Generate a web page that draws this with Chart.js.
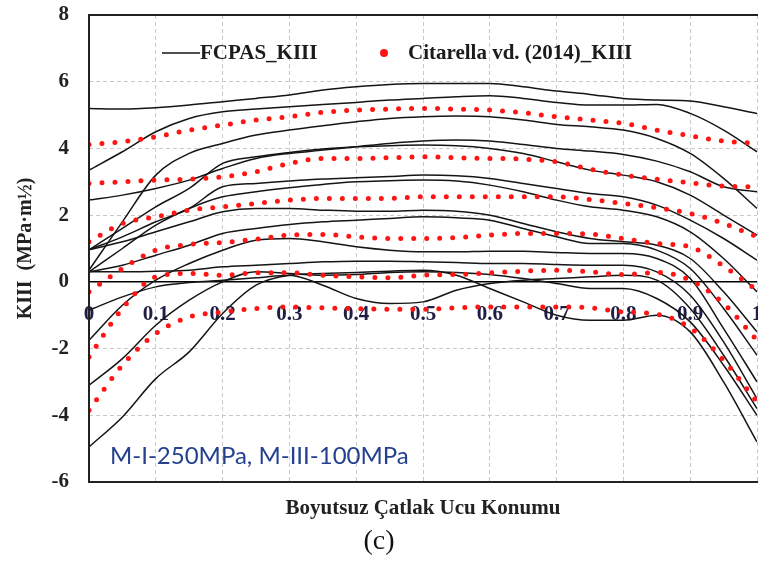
<!DOCTYPE html>
<html>
<head>
<meta charset="utf-8">
<script src="https://cdn.jsdelivr.net/npm/chart.js@4.4.0/dist/chart.umd.min.js"></script>
<style>
  html, body { margin: 0; padding: 0; background: #fff; }
  #wrap { position: relative; width: 758px; height: 563px; overflow: hidden; }
  #cap { position: absolute; left: 0; width: 758px; top: 522px; text-align: center;
         font: 28px "Liberation Serif", serif; color: #111; line-height: 36px; }
</style>
</head>
<body>
<div id="wrap">
  <canvas id="myChart" width="758" height="563"></canvas>
  <div id="cap">(c)</div>
</div>
<script>
/* ================================
   KIII along the crack front
================================ */
// crack front positions (dimensionless)
var xs = [0, 0.05, 0.1, 0.15, 0.2, 0.25, 0.3, 0.35, 0.4, 0.45, 0.5,
          0.55, 0.6, 0.65, 0.7, 0.75, 0.8, 0.85, 0.9, 0.95, 1];

// FCPAS_KIII curves
var fcpas1  = [5.2, 5.18, 5.22, 5.3, 5.4, 5.5, 5.6, 5.75, 5.85, 5.92, 5.95, 5.95, 5.95, 5.85, 5.72, 5.62, 5.5, 5.45, 5.42, 5.25, 5.05];
var fcpas2  = [3.35, 3.9, 4.5, 4.9, 5.1, 5.18, 5.25, 5.32, 5.38, 5.45, 5.5, 5.55, 5.58, 5.5, 5.38, 5.3, 5.3, 5.32, 5.05, 4.55, 3.9];
var fcpas3  = [0.35, 1.8, 3.2, 3.85, 4.15, 4.4, 4.55, 4.68, 4.8, 4.9, 4.95, 4.97, 4.95, 4.85, 4.72, 4.65, 4.55, 4.3, 3.85, 3.1, 2.2];
var fcpas4  = [2.45, 2.6, 2.8, 3.05, 3.4, 3.7, 3.85, 3.95, 4.05, 4.15, 4.22, 4.25, 4.22, 4.12, 4.0, 3.92, 3.82, 3.62, 3.3, 2.85, 2.7];
var fcpas5  = [0.96, 1.6, 2.25, 2.8, 3.55, 3.75, 3.88, 3.98, 4.05, 4.08, 4.1, 4.08, 4.0, 3.85, 3.6, 3.35, 3.2, 3.0, 2.6, 2.0, 1.4];
var fcpas6  = [0.96, 1.35, 1.8, 2.2, 2.85, 2.95, 3.02, 3.08, 3.12, 3.16, 3.2, 3.18, 3.1, 2.95, 2.8, 2.65, 2.55, 2.3, 1.85, 1.3, 0.65];
var fcpas7  = [0.3, 1.0, 1.7, 2.2, 2.55, 2.7, 2.82, 2.92, 3.0, 3.03, 3.05, 3.02, 2.9, 2.7, 2.45, 2.25, 2.15, 1.95, 1.5, 0.7, -0.3];
var fcpas8  = [0.96, 1.2, 1.5, 1.8, 2.1, 2.2, 2.2, 2.15, 2.12, 2.12, 2.15, 2.12, 2.0, 1.75, 1.5, 1.3, 1.2, 1.1, 0.7, -0.3, -1.5];
var fcpas9  = [0.3, 0.5, 0.8, 1.1, 1.45, 1.6, 1.72, 1.8, 1.85, 1.9, 1.95, 1.92, 1.85, 1.6, 1.35, 1.15, 1.15, 0.95, 0.4, -0.8, -2.2];
var fcpas10 = [-1.75, -0.7, 0.05, 0.55, 0.95, 1.25, 1.3, 1.2, 1.05, 0.95, 0.9, 0.9, 0.92, 0.92, 0.88, 0.85, 0.85, 0.7, 0.1, -1.4, -3.0];
var fcpas11 = [0.3, 0.3, 0.32, 0.35, 0.45, 0.5, 0.55, 0.6, 0.62, 0.62, 0.6, 0.58, 0.55, 0.55, 0.52, 0.5, 0.5, 0.3, -0.4, -1.8, -3.5];
var fcpas12 = [-3.1, -2.3, -1.3, -0.55, 0.0, 0.3, 0.25, 0.2, 0.22, 0.28, 0.3, 0.28, 0.22, 0.1, -0.05, -0.2, -0.2, -0.5, -1.2, -2.5, -4.0];
var fcpas13 = [-0.85, -0.45, -0.15, -0.02, 0.05, 0.12, 0.2, -0.1, -0.5, -0.65, -0.6, -0.25, -0.05, 0.05, 0.1, 0.15, 0.2, 0.05, -0.8, -2.2, -3.8];
var fcpas14 = [-4.95, -4.05, -2.9, -2.1, -0.95, -0.1, 0.2, 0.25, 0.28, 0.32, 0.35, 0.2, -0.2, -0.6, -1.0, -1.15, -1.15, -1.0, -1.5, -3.0, -4.8];

// Citarella vd. (2014)_KIII curves
var cit1 = [4.12, 4.2, 4.35, 4.55, 4.7, 4.85, 4.95, 5.08, 5.15, 5.18, 5.2, 5.18, 5.15, 5.07, 4.95, 4.85, 4.75, 4.55, 4.38, 4.22, 4.15];
var cit2 = [2.95, 3.0, 3.05, 3.08, 3.15, 3.3, 3.55, 3.7, 3.7, 3.72, 3.75, 3.72, 3.7, 3.68, 3.6, 3.38, 3.2, 3.08, 2.97, 2.87, 2.85];
var cit3 = [1.2, 1.75, 1.95, 2.15, 2.25, 2.35, 2.45, 2.5, 2.5, 2.5, 2.55, 2.55, 2.55, 2.55, 2.55, 2.47, 2.35, 2.22, 2.05, 1.75, 1.35];
var cit4 = [-0.3, 0.4, 0.95, 1.12, 1.18, 1.28, 1.4, 1.42, 1.35, 1.3, 1.3, 1.33, 1.4, 1.45, 1.45, 1.43, 1.3, 1.15, 1.05, 0.47, -0.25];
var cit5 = [-2.25, -0.8, 0.15, 0.25, 0.2, 0.27, 0.27, 0.2, 0.15, 0.12, 0.2, 0.22, 0.27, 0.32, 0.35, 0.3, 0.22, 0.28, 0.05, -0.65, -1.75];
var cit6 = [-3.85, -2.5, -1.55, -1.05, -0.9, -0.8, -0.75, -0.78, -0.8, -0.82, -0.82, -0.78, -0.75, -0.75, -0.75, -0.78, -0.9, -0.97, -1.38, -2.35, -3.6];

var fcpasCurves = [fcpas1, fcpas2, fcpas3, fcpas4, fcpas5, fcpas6, fcpas7,
                   fcpas8, fcpas9, fcpas10, fcpas11, fcpas12, fcpas13, fcpas14];
var citCurves = [cit1, cit2, cit3, cit4, cit5, cit6];

var yTicks = [-6, -4, -2, 0, 2, 4, 6, 8];
var legendNames = ['FCPAS_KIII', 'Citarella vd. (2014)_KIII'];
var noteText = 'M-I-250MPa, M-III-100MPa';

var serif = 'Liberation Serif';

function toPoints(arr) {
  return arr.map((v, i) => ({ x: xs[i], y: v }));
}

var datasets = [];
citCurves.forEach((c) => {
  datasets.push({
    data: toPoints(c),
    borderColor: '#ff1414',
    borderWidth: 5,
    borderDash: [0, 13],
    borderCapStyle: 'round',
    pointRadius: 0,
    cubicInterpolationMode: 'monotone',
    order: 0
  });
});
fcpasCurves.forEach((c) => {
  datasets.push({
    data: toPoints(c),
    borderColor: '#151515',
    borderWidth: 1.5,
    pointRadius: 0,
    cubicInterpolationMode: 'monotone',
    order: 1
  });
});

// frame, legend and the load note drawn over the plot
const framePlugin = {
  id: 'frame',
  afterDraw(chart) {
    const ctx = chart.ctx;
    const a = chart.chartArea;
    ctx.save();
    ctx.strokeStyle = '#222';
    ctx.lineWidth = 2;
    ctx.beginPath();
    ctx.moveTo(a.right + 2, a.top);
    ctx.lineTo(a.left, a.top);
    ctx.lineTo(a.left, a.bottom);
    ctx.lineTo(a.right + 2, a.bottom);
    ctx.stroke();

    // legend
    const ly = a.top + 38;
    ctx.strokeStyle = '#151515';
    ctx.lineWidth = 1.5;
    ctx.beginPath();
    ctx.moveTo(a.left + 73, ly);
    ctx.lineTo(a.left + 111, ly);
    ctx.stroke();
    ctx.font = 'bold 21px "' + serif + '"';
    ctx.fillStyle = '#1b1b1b';
    ctx.textBaseline = 'middle';
    ctx.textAlign = 'left';
    ctx.fillText(legendNames[0], a.left + 111, ly + 1);
    ctx.fillStyle = '#ff1414';
    ctx.beginPath();
    ctx.arc(a.left + 295, ly, 4, 0, Math.PI * 2);
    ctx.fill();
    ctx.fillStyle = '#1b1b1b';
    ctx.fillText(legendNames[1], a.left + 319, ly + 1);

    // load case note
    ctx.font = '24px "Lato"';
    ctx.fillStyle = '#24418f';
    ctx.fillText(noteText, a.left + 21, a.bottom - 26);
    ctx.restore();
  }
};

const variable = document.getElementById('myChart');
const myChart = new Chart(variable, {
  type: 'line',
  data: { datasets: datasets },
  options: {
    responsive: false,
    animation: false,
    layout: { padding: { top: 15, right: 1, left: 0, bottom: 0 } },
    plugins: {
      legend: { display: false },
      tooltip: { enabled: false }
    },
    scales: {
      x: {
        type: 'linear',
        position: 'bottom',
        min: 0,
        max: 1,
        ticks: { display: false, stepSize: 0.1 },
        grid: { color: '#c9c9c9', drawTicks: false },
        border: { display: false, dash: [4, 3] },
        title: {
          display: true,
          text: 'Boyutsuz Çatlak Ucu Konumu',
          color: '#222',
          font: { family: serif, size: 21, weight: 'bold' },
          padding: { top: 0, bottom: 42 }
        },
        afterFit: (s) => { s.height = 81; s.paddingLeft = 0; s.paddingRight = 0; }
      },
      xl: {
        type: 'linear',
        position: { y: 0 },
        min: 0,
        max: 1,
        z: 1,
        ticks: {
          stepSize: 0.1,
          padding: 20,
          color: '#1d1d45',
          font: { family: serif, size: 21, weight: 'bold' },
          callback: (v) => String(Math.round(v * 10) / 10)
        },
        grid: { display: false, drawTicks: false },
        border: { display: false },
        afterFit: (s) => { s.paddingLeft = 0; s.paddingRight = 0; }
      },
      y: {
        min: yTicks[0],
        max: yTicks[yTicks.length - 1],
        afterBuildTicks: (s) => { s.ticks = yTicks.map((v) => ({ value: v })); },
        ticks: {
          padding: 20,
          color: '#222',
          font: { family: serif, size: 21, weight: 'bold' }
        },
        grid: {
          drawTicks: false,
          color: (c) => (c.tick && c.tick.value === 0 ? '#000' : '#c9c9c9'),
          lineWidth: (c) => (c.tick && c.tick.value === 0 ? 1.6 : 1)
        },
        border: {
          display: false,
          dash: (c) => (c.tick && c.tick.value === 0 ? [] : [4, 3])
        },
        title: {
          display: true,
          text: 'KIII  (MPa·m½)',
          color: '#222',
          font: { family: serif, size: 20, weight: 'bold' },
          padding: { top: 14, bottom: 0 }
        },
        afterFit: (s) => { s.width = 89; s.paddingTop = 0; s.paddingBottom = 0; }
      }
    }
  },
  plugins: [framePlugin]
});
</script>
</body>
</html>
